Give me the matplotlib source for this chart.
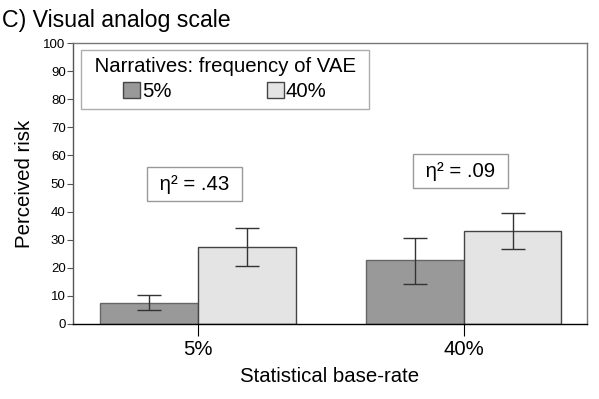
import matplotlib.pyplot as plt
from matplotlib.patches import Patch

plt.rcParams['font.family'] = ['Liberation Sans', 'DejaVu Sans']

# data
base_rates = ["5%", "40%"]
narrative_levels = ["5%", "40%"]
mean_5 = [7.6, 22.7]        # narratives 5%
mean_40 = [27.4, 33.1]      # narratives 40%
lo_5 = [4.9, 14.2]
hi_5 = [10.2, 30.7]
lo_40 = [20.6, 26.6]
hi_40 = [34.2, 39.5]
eta_labels = ["η² = .43", "η² = .09"]
eta_y = [49.8, 54.4]

dark = "#999999"
light = "#e4e4e4"
w = 0.368
fs = 14.7

fig = plt.figure(figsize=(5.99, 3.99), dpi=100)
ax = fig.add_axes([73 / 599, 75 / 399, 514 / 599, 281 / 399])

x = list(range(len(base_rates)))
x1 = [i - w / 2 for i in x]
x2 = [i + w / 2 for i in x]
ax.bar(x1, mean_5, width=w, color=dark, edgecolor="#666666", linewidth=1)
ax.bar(x2, mean_40, width=w, color=light, edgecolor="#444444", linewidth=1)

err5 = [[m - l for m, l in zip(mean_5, lo_5)], [h - m for m, h in zip(mean_5, hi_5)]]
err40 = [[m - l for m, l in zip(mean_40, lo_40)], [h - m for m, h in zip(mean_40, hi_40)]]
ax.errorbar(x1, mean_5, yerr=err5, fmt="none", ecolor="#333333", elinewidth=1, capsize=8.6, capthick=1)
ax.errorbar(x2, mean_40, yerr=err40, fmt="none", ecolor="#333333", elinewidth=1, capsize=8.6, capthick=1)

for xi, yi, lab in zip(x, eta_y, eta_labels):
    ax.text(xi - 0.012, yi, " " + lab + " ", ha="center", va="center", fontsize=fs,
            bbox=dict(boxstyle="square,pad=0.35", fc="white", ec="#999999", lw=1))

ax.set_xlim(-0.469, 1.464)
ax.set_ylim(0, 100)
ax.set_yticks(range(0, 101, 10))
ax.set_xticks(x)
ax.set_xticklabels(base_rates, fontsize=fs)
ax.tick_params(axis="y", labelsize=9.5, length=4.3, colors="#555555", labelcolor="black", pad=1)
ax.tick_params(axis="x", length=8.6, colors="black", pad=3)
ax.spines["left"].set_color("#555555")
ax.spines["top"].set_color("#777777")
ax.spines["right"].set_color("#777777")
ax.spines["bottom"].set_color("black")
for s in ax.spines.values():
    s.set_linewidth(1)

ax.set_ylabel("Perceived risk", fontsize=fs, labelpad=7)
ax.set_xlabel("Statistical base-rate", fontsize=fs, labelpad=6)

handles = [Patch(facecolor=dark, edgecolor="#444444", lw=1),
           Patch(facecolor=light, edgecolor="#444444", lw=1)]
leg = ax.legend(handles, narrative_levels, title=" Narratives: frequency of VAE ",
                ncol=2, loc="upper left", bbox_to_anchor=(0.0165, 0.975),
                fontsize=fs, title_fontsize=fs, frameon=True, fancybox=False,
                handlelength=0.83, handleheight=0.83, handletextpad=0.1,
                columnspacing=4.65, borderpad=0.35, labelspacing=0.3,
                borderaxespad=0)
leg.get_frame().set_edgecolor("#999999")
leg.get_frame().set_linewidth(1)

fig.text(0.003, 1 - 27 / 399, "C) Visual analog scale", fontsize=16.7, va="baseline")

fig.savefig("out.png", dpi=100)
